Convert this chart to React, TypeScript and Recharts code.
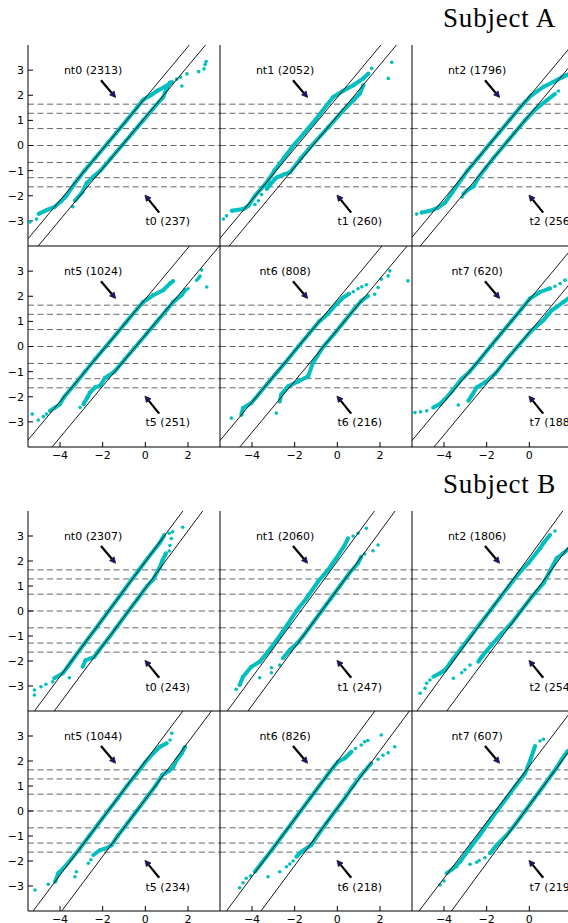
import React from 'react';
import { ScatterChart, Scatter, XAxis, YAxis, ReferenceLine, ReferenceDot } from 'recharts';

type P = [number, number];

// ---- Subject A ----
const aNt0: P[] = [[-5.0,-2.72],[-4.6,-2.56],[-4.25,-2.44],[-3.95,-2.22],[-3.7,-2.0],[-3.3,-1.5],[-2.85,-1.0],[-2.35,-0.5],[-1.86,0],[-1.37,0.5],[-0.88,1.0],[-0.4,1.5],[-0.1,1.82],[0.25,2.0],[0.6,2.2],[0.9,2.33],[1.25,2.52]];
const aNt0Dots: P[] = [[-5.41,-3.04],[-5.1,-2.93],[1.47,2.64],[1.65,2.72],[1.95,2.85],[2.5,2.94],[2.75,3.05],[2.8,3.22],[2.85,3.34]];
const aT0: P[] = [[-3.3,-2.2],[-2.95,-1.85],[-2.75,-1.5],[-2.45,-1.25],[-2.1,-1.0],[-1.6,-0.5],[-1.1,0],[-0.6,0.5],[-0.1,1.0],[0.35,1.45],[0.84,1.93],[1.0,2.27],[1.15,2.5]];
const aT0Dots: P[] = [[-3.4,-2.44],[1.71,2.37]];

const aNt1: P[] = [[-4.95,-2.6],[-4.41,-2.53],[-4.17,-2.4],[-3.86,-2.0],[-3.31,-1.47],[-2.95,-1.0],[-2.5,-0.5],[-2.06,0],[-1.55,0.5],[-1.05,1.0],[-0.5,1.6],[-0.19,1.93],[0.28,2.18],[0.75,2.4],[1.22,2.67],[1.45,2.86]];
const aNt1Dots: P[] = [[-5.34,-2.93],[-5.19,-2.8],[1.61,3.07],[2.39,2.67],[2.55,3.31]];
const aT1: P[] = [[-3.31,-1.73],[-3.1,-1.5],[-2.84,-1.27],[-2.5,-1.15],[-2.22,-1.07],[-1.7,-0.5],[-1.2,0],[-0.42,0.73],[0.28,1.4],[0.75,1.8],[1.06,2.07],[1.22,2.4]];
const aT1Dots: P[] = [[-3.7,-2.2],[-3.86,-2.35],[-3.55,-1.95]];

const aNt2: P[] = [[-5.05,-2.67],[-4.66,-2.6],[-4.27,-2.47],[-3.95,-2.27],[-3.6,-1.85],[-2.9,-1.0],[-2.4,-0.5],[-1.92,0],[-1.43,0.5],[-0.94,1.0],[-0.45,1.5],[0.1,2.0],[0.66,2.33],[1.12,2.53],[1.52,2.71],[2.0,2.9]];
const aNt2Dots: P[] = [[-5.28,-2.73]];
const aT2: P[] = [[-3.09,-1.93],[-2.94,-1.8],[-2.6,-1.62],[-2.4,-1.3],[-2.05,-0.9],[-1.68,-0.5],[-1.19,0],[-0.7,0.5],[-0.2,1.0],[0.3,1.45],[0.82,1.8],[1.2,2.05]];
const aT2Dots: P[] = [[-3.15,-2.05],[1.36,2.17]];

const aNt5: P[] = [[-4.47,-2.56],[-4.23,-2.43],[-4.0,-2.29],[-3.8,-2.0],[-3.3,-1.5],[-2.83,-1.0],[-2.35,-0.5],[-1.85,0],[-1.36,0.5],[-0.87,1.0],[-0.38,1.5],[-0.1,1.77],[0.37,2.04],[0.84,2.24],[1.16,2.51],[1.3,2.6]];
const aNt5Dots: P[] = [[-5.3,-2.69],[-5.02,-2.93],[-4.78,-2.79],[-4.63,-2.69]];
const aT5: P[] = [[-2.9,-2.3],[-2.72,-2.03],[-2.59,-1.83],[-2.36,-1.63],[-2.12,-1.56],[-1.89,-1.25],[-1.45,-1.0],[-0.95,-0.5],[-0.45,0],[0.05,0.5],[0.55,1.0],[1.0,1.45],[1.31,1.77],[1.7,2.04],[1.86,2.24]];
const aT5Dots: P[] = [[-3.06,-2.43],[2.0,2.3],[2.41,2.64],[2.5,2.72],[2.56,2.8],[2.64,3.04],[2.88,2.37]];

const aNt6: P[] = [[-4.5,-2.72],[-4.42,-2.45],[-4.03,-2.25],[-3.3,-1.5],[-2.8,-1.0],[-2.3,-0.5],[-1.83,0],[-1.34,0.5],[-0.85,1.0],[-0.44,1.3],[-0.05,1.68],[0.27,1.95],[0.55,2.1]];
const aNt6Dots: P[] = [[-4.97,-2.85],[0.75,2.18],[0.97,2.3],[1.15,2.38],[1.36,2.46]];
const aT6: P[] = [[-2.7,-2.19],[-2.63,-1.92],[-2.31,-1.59],[-1.84,-1.39],[-1.37,-1.19],[-1.14,-0.65],[-0.65,0],[-0.15,0.5],[0.33,1.0],[0.8,1.5],[1.12,1.81],[1.44,2.01]];
const aT6Dots: P[] = [[-2.86,-2.65],[1.75,2.08],[1.91,2.35],[2.06,2.68],[2.38,2.81],[2.46,3.01],[3.31,2.61]];

const aNt7: P[] = [[-4.5,-2.43],[-4.19,-2.29],[-3.95,-2.09],[-3.6,-1.75],[-3.17,-1.29],[-2.8,-1.0],[-2.3,-0.5],[-1.83,0],[-1.34,0.5],[-0.85,1.0],[-0.36,1.5],[0.03,1.91],[0.5,2.17],[0.97,2.31]];
const aNt7Dots: P[] = [[-5.36,-2.63],[-5.1,-2.6],[-4.81,-2.56],[1.2,2.4],[1.44,2.51],[1.67,2.64],[1.9,2.75]];
const aT7: P[] = [[-2.86,-2.16],[-2.7,-1.96],[-2.47,-1.63],[-2.08,-1.43],[-1.61,-1.09],[-1.05,-0.5],[-0.55,0],[0.11,0.64],[0.66,1.04],[1.05,1.44],[1.28,1.57],[1.59,1.77],[1.9,1.95]];
const aT7Dots: P[] = [[-3.33,-2.33],[2.2,2.05]];

// ---- Subject B ----
const bNt0: P[] = [[-4.27,-2.69],[-3.87,-2.49],[-3.64,-2.23],[-3.45,-2.0],[-2.88,-1.33],[-2.3,-0.67],[-1.72,0],[-1.14,0.67],[-0.6,1.3],[-0.3,1.64],[0.1,2.1],[0.66,2.71],[0.89,3.04]];
const bNt0Dots: P[] = [[-5.2,-3.16],[-5.2,-3.36],[-4.89,-3.03],[-4.66,-2.93],[-4.34,-2.83],[1.12,3.11],[1.28,3.17],[1.75,3.35]];
const bT0: P[] = [[-2.94,-2.23],[-2.8,-1.97],[-2.39,-1.83],[-2.23,-1.63],[-1.65,-1.0],[-1.22,-0.5],[-0.79,0],[-0.35,0.5],[0.08,1.0],[0.35,1.24],[0.66,1.71],[0.81,2.04],[0.97,2.31]];
const bT0Dots: P[] = [[-3.56,-2.67],[1.12,2.4],[1.15,2.62],[1.22,2.9]];

const bNt1: P[] = [[-4.58,-2.96],[-4.42,-2.63],[-4.03,-2.23],[-3.64,-2.03],[-3.25,-1.63],[-2.7,-1.0],[-2.3,-0.5],[-1.92,0],[-1.45,0.5],[-0.91,1.17],[-0.44,1.64],[-0.05,2.11],[0.35,2.64],[0.5,2.91]];
const bNt1Dots: P[] = [[-4.74,-3.13],[0.74,3.0],[0.97,3.11],[1.36,3.31]];
const bT1: P[] = [[-2.55,-1.89],[-2.23,-1.56],[-1.9,-1.3],[-1.6,-1.0],[-1.17,-0.5],[-0.74,0],[-0.31,0.5],[0.12,1.0],[0.55,1.5],[0.97,1.91],[1.12,2.17]];
const bT1Dots: P[] = [[-3.64,-2.67],[-3.09,-2.27],[-3.09,-2.47],[-2.7,-2.16],[1.28,2.28],[1.67,2.41],[1.91,2.64]];

const bNt2: P[] = [[-4.5,-2.63],[-4.19,-2.49],[-3.95,-2.36],[-3.72,-2.09],[-3.2,-1.5],[-2.75,-1.0],[-2.3,-0.5],[-1.85,0],[-1.4,0.5],[-0.95,1.0],[-0.5,1.5],[-0.05,1.91],[0.5,2.51],[0.66,2.71],[0.97,3.04]];
const bNt2Dots: P[] = [[-5.12,-3.29],[-4.89,-3.09],[-4.81,-2.89],[-4.66,-2.76],[1.2,3.2]];
const bT2: P[] = [[-2.39,-2.03],[-2.23,-1.83],[-1.77,-1.36],[-1.3,-0.9],[-0.85,-0.5],[-0.4,0],[0.1,0.55],[0.66,1.11],[1.12,1.84],[1.28,2.11],[1.59,2.31],[2.0,2.6]];
const bT2Dots: P[] = [[-3.56,-2.69],[-3.17,-2.47],[-3.02,-2.35],[-2.78,-2.16]];

const bNt5: P[] = [[-4.23,-2.83],[-4.08,-2.49],[-3.77,-2.23],[-3.07,-1.5],[-2.63,-1.0],[-2.19,-0.5],[-1.75,0],[-1.3,0.5],[-0.87,1.0],[-0.4,1.5],[0.0,1.95],[0.37,2.31],[0.69,2.57],[1.0,2.71]];
const bNt5Dots: P[] = [[-5.17,-3.16],[-4.55,-2.93],[1.16,2.84],[1.24,3.11]];
const bT5: P[] = [[-2.44,-1.76],[-2.12,-1.56],[-1.81,-1.49],[-1.58,-1.36],[-1.3,-1.0],[-0.85,-0.5],[-0.41,0],[0.03,0.5],[0.47,1.0],[0.8,1.45],[1.1,1.6],[1.3,1.75],[1.47,2.04],[1.71,2.31],[1.86,2.57]];
const bT5Dots: P[] = [[-3.3,-2.63],[-3.23,-2.43],[-2.67,-2.09],[-2.55,-1.95]];

const bNt6: P[] = [[-3.87,-2.43],[-3.56,-2.09],[-3.02,-1.5],[-2.59,-1.0],[-2.15,-0.5],[-1.72,0],[-1.29,0.5],[-0.85,1.0],[-0.42,1.5],[0.03,1.97],[0.35,2.11],[0.66,2.37]];
const bNt6Dots: P[] = [[-4.58,-3.07],[-4.42,-2.87],[-4.27,-2.69],[-4.06,-2.59],[0.85,2.5],[1.12,2.64],[1.28,2.77],[1.43,2.82],[2.06,3.04]];
const bT6: P[] = [[-1.92,-1.83],[-1.69,-1.63],[-1.22,-1.36],[-0.91,-0.96],[-0.53,-0.5],[-0.1,0],[0.35,0.51],[0.66,0.91],[1.12,1.44],[1.59,1.91]];
const bT6Dots: P[] = [[-3.25,-2.63],[-2.7,-2.43],[-2.39,-2.23],[-2.23,-2.12],[-2.07,-2.0],[1.91,2.07],[2.14,2.23],[2.38,2.33],[2.69,2.57]];

const bNt7: P[] = [[-3.87,-2.49],[-3.56,-2.29],[-3.25,-2.03],[-2.8,-1.5],[-2.35,-1.0],[-1.95,-0.5],[-1.52,0],[-1.08,0.5],[-0.65,1.0],[-0.2,1.5],[0.03,2.0],[0.27,2.6]];
const bNt7Dots: P[] = [[-4.19,-2.96],[-4.0,-2.8],[-3.4,-2.23],[0.5,2.8],[0.66,2.87]];
const bT7: P[] = [[-1.84,-1.69],[-1.53,-1.36],[-1.1,-1.0],[-0.63,-0.5],[-0.2,0],[0.23,0.5],[0.66,1.0],[1.08,1.5],[1.28,1.73],[1.52,2.07],[1.8,2.4]];
const bT7Dots: P[] = [[-2.78,-2.13],[-2.47,-2.05],[-2.35,-1.98],[-2.08,-1.87]];

// reference lines: y = slope * (x - x0)
const aNtSlope = [1.02, 1.02, 1.02, 1.02, 1.02, 1.02];
const aNtX0 = [-1.86, -1.88, -1.92, -1.85, -1.83, -1.83];
const aTSlope = [1.02, 1.02, 1.02, 1.02, 1.02, 1.02];
const aTX0 = [-1.1, -1.15, -1.19, -0.45, -0.65, -0.55];
const bNtSlope = [1.15, 1.16, 1.17, 1.14, 1.15, 1.12];
const bNtX0 = [-1.72, -1.71, -1.85, -1.75, -1.72, -1.6];
const bTSlope = [1.15, 1.16, 1.15, 1.14, 1.15, 1.16];
const bTX0 = [-0.79, -0.74, -0.39, -0.41, -0.1, -0.2];

const panelIds = [0, 1, 2, 5, 6, 7];
const aNtCounts = [2313, 2052, 1796, 1024, 808, 620];
const aTCounts = [237, 260, 256, 251, 216, 188];
const bNtCounts = [2307, 2060, 1806, 1044, 826, 607];
const bTCounts = [243, 247, 254, 234, 218, 219];

const xTicks = [-4, -2, 0, 2];
const yTicks = [-3, -2, -1, 0, 1, 2, 3];
const quantiles = [-1.645, -1.282, -0.674, 0, 0.674, 1.282, 1.645];
const X_DOMAIN: [number, number] = [-5.5, 3.5];
const Y_DOMAIN: [number, number] = [-4, 4];

const ntText: P = [-2.45, 3.0];
const ntArrow: [P, P] = [[-2.08, 2.6], [-1.39, 1.91]];
const tText: P = [1.05, -3.04];
const tArrow: [P, P] = [[0.65, -2.67], [-0.02, -1.97]];

const colLeft = [28, 220, 412];
const PW = 192;
const CYAN = '#00bfbf';
const FONT = '"DejaVu Sans", Verdana, sans-serif';

const toPts = (a: P[]) => a.map(([x, y]) => ({ x, y }));
const fmt = (v: number) => (v < 0 ? '\u2212' + Math.abs(v) : String(v));

const lineSeg = (s: number, x0: number) => {
  const xa = Math.max(X_DOMAIN[0], x0 + Y_DOMAIN[0] / s);
  const xb = Math.min(X_DOMAIN[1], x0 + Y_DOMAIN[1] / s);
  return [{ x: xa, y: s * (xa - x0) }, { x: xb, y: s * (xb - x0) }];
};

const Dot = (p: any) => <circle cx={p.cx} cy={p.cy} r={1.8} fill={CYAN} />;
const BandDot = (p: any) => <circle cx={p.cx} cy={p.cy} r={2.1} fill={CYAN} />;
const NoDot = () => <g />;

const Arrow = (p: any) => {
  const { x1, y1, x2, y2 } = p;
  const dx = x2 - x1, dy = y2 - y1;
  const len = Math.hypot(dx, dy) || 1;
  const ux = dx / len, uy = dy / len;
  const hl = 6, hw = 3;
  const bx = x2 - ux * hl, by = y2 - uy * hl;
  return (
    <g>
      <line x1={x1} y1={y1} x2={bx} y2={by} stroke="#000" strokeWidth={2.2} />
      <polygon
        points={`${x2},${y2} ${bx - uy * hw},${by + ux * hw} ${bx + uy * hw},${by - ux * hw}`}
        fill="#16167e"
        stroke="#000"
        strokeWidth={0.6}
      />
    </g>
  );
};

const textShape = (label: string) => (p: any) => (
  <text x={p.cx} y={p.cy} textAnchor="middle" dominantBaseline="central" fontSize={11} fontFamily={FONT} fill="#000">
    {label}
  </text>
);

interface PanelSpec {
  key: string;
  left: number;
  top: number;
  height: number;
  showX: boolean;
  showY: boolean;
  ntBand: P[];
  ntDots: P[];
  tBand: P[];
  tDots: P[];
  ntLine: { x: number; y: number }[];
  tLine: { x: number; y: number }[];
  ntLabel: string;
  tLabel: string;
}

const Panel = ({ s }: { s: PanelSpec }) => {
  const tickStyle = { fontSize: 11, fontFamily: FONT, fill: '#000' };
  const ax = { xAxisId: 'b', yAxisId: 'l' };
  return (
    <div style={{ position: 'absolute', left: s.left - 40, top: s.top - 2 }}>
      <ScatterChart width={40 + PW + 2} height={2 + s.height + 22} margin={{ top: 2, right: 2, bottom: 0, left: 0 }}>
        <XAxis
          xAxisId="b" type="number" dataKey="x" domain={X_DOMAIN} ticks={xTicks} allowDataOverflow interval={0}
          orientation="bottom" height={22} tickSize={-5} tickMargin={9}
          tick={s.showX ? tickStyle : false} tickFormatter={fmt}
          axisLine={{ stroke: '#000' }} tickLine={{ stroke: '#000' }}
        />
        <XAxis
          xAxisId="t" type="number" dataKey="x" domain={X_DOMAIN} ticks={xTicks} allowDataOverflow interval={0}
          orientation="top" height={0} tickSize={-5} tick={false}
          axisLine={{ stroke: '#000' }} tickLine={{ stroke: '#000' }}
        />
        <YAxis
          yAxisId="l" type="number" dataKey="y" domain={Y_DOMAIN} ticks={yTicks} allowDataOverflow interval={0}
          orientation="left" width={40} tickSize={-5} tickMargin={9}
          tick={s.showY ? tickStyle : false} tickFormatter={fmt}
          axisLine={{ stroke: '#000' }} tickLine={{ stroke: '#000' }}
        />
        <YAxis
          yAxisId="r" type="number" dataKey="y" domain={Y_DOMAIN} ticks={yTicks} allowDataOverflow interval={0}
          orientation="right" width={0} tickSize={-5} tick={false}
          axisLine={{ stroke: '#000' }} tickLine={{ stroke: '#000' }}
        />
        {quantiles.map((q) => (
          <ReferenceLine key={q} {...ax} y={q} stroke="#666" strokeDasharray="6 3.5" />
        ))}
        <Scatter {...ax} data={toPts(s.ntBand)} line={{ stroke: CYAN, strokeWidth: 4 }} shape={BandDot} isAnimationActive={false} />
        <Scatter {...ax} data={toPts(s.tBand)} line={{ stroke: CYAN, strokeWidth: 4 }} shape={BandDot} isAnimationActive={false} />
        <Scatter {...ax} data={toPts(s.ntDots)} shape={Dot} isAnimationActive={false} />
        <Scatter {...ax} data={toPts(s.tDots)} shape={Dot} isAnimationActive={false} />
        <Scatter {...ax} data={s.ntLine} line={{ stroke: '#000', strokeWidth: 0.9 }} shape={NoDot} isAnimationActive={false} />
        <Scatter {...ax} data={s.tLine} line={{ stroke: '#000', strokeWidth: 0.9 }} shape={NoDot} isAnimationActive={false} />
        <ReferenceLine {...ax} segment={[{ x: ntArrow[0][0], y: ntArrow[0][1] }, { x: ntArrow[1][0], y: ntArrow[1][1] }]} shape={Arrow} />
        <ReferenceLine {...ax} segment={[{ x: tArrow[0][0], y: tArrow[0][1] }, { x: tArrow[1][0], y: tArrow[1][1] }]} shape={Arrow} />
        <ReferenceDot {...ax} x={ntText[0]} y={ntText[1]} r={1} shape={textShape(s.ntLabel)} />
        <ReferenceDot {...ax} x={tText[0]} y={tText[1]} r={1} shape={textShape(s.tLabel)} />
      </ScatterChart>
    </div>
  );
};

const aData = [
  [aNt0, aNt0Dots, aT0, aT0Dots],
  [aNt1, aNt1Dots, aT1, aT1Dots],
  [aNt2, aNt2Dots, aT2, aT2Dots],
  [aNt5, aNt5Dots, aT5, aT5Dots],
  [aNt6, aNt6Dots, aT6, aT6Dots],
  [aNt7, aNt7Dots, aT7, aT7Dots],
];
const bData = [
  [bNt0, bNt0Dots, bT0, bT0Dots],
  [bNt1, bNt1Dots, bT1, bT1Dots],
  [bNt2, bNt2Dots, bT2, bT2Dots],
  [bNt5, bNt5Dots, bT5, bT5Dots],
  [bNt6, bNt6Dots, bT6, bT6Dots],
  [bNt7, bNt7Dots, bT7, bT7Dots],
];

const buildSpecs = (
  prefix: string, tops: number[], height: number, data: P[][][],
  ntS: number[], ntX0: number[], tS: number[], tX0: number[], ntN: number[], tN: number[]
): PanelSpec[] =>
  panelIds.map((id, i) => {
    const row = Math.floor(i / 3);
    const col = i % 3;
    return {
      key: prefix + id,
      left: colLeft[col],
      top: tops[row],
      height,
      showX: row === 1,
      showY: col === 0,
      ntBand: data[i][0],
      ntDots: data[i][1],
      tBand: data[i][2],
      tDots: data[i][3],
      ntLine: lineSeg(ntS[i], ntX0[i]),
      tLine: lineSeg(tS[i], tX0[i]),
      ntLabel: `nt${id} (${ntN[i]})`,
      tLabel: `t${id} (${tN[i]})`,
    };
  });

const specsA = buildSpecs('a', [45, 246], 201, aData, aNtSlope, aNtX0, aTSlope, aTX0, aNtCounts, aTCounts);
const specsB = buildSpecs('b', [511, 711], 200, bData, bNtSlope, bNtX0, bTSlope, bTX0, bNtCounts, bTCounts);

export default function App() {
  return (
    <div style={{ position: 'absolute', left: 0, top: 0, width: 568, height: 923, overflow: 'hidden', background: '#fff' }}>
      <svg width={568} height={923} style={{ position: 'absolute', left: 0, top: 0 }}>
        <text x={556} y={27} textAnchor="end" fontSize={27} fontFamily='"Liberation Serif", "Times New Roman", serif' letterSpacing={0.8}>
          Subject A
        </text>
        <text x={556} y={493} textAnchor="end" fontSize={27} fontFamily='"Liberation Serif", "Times New Roman", serif' letterSpacing={0.8}>
          Subject B
        </text>
      </svg>
      {[...specsA, ...specsB].map((s) => (
        <Panel key={s.key} s={s} />
      ))}
    </div>
  );
}
